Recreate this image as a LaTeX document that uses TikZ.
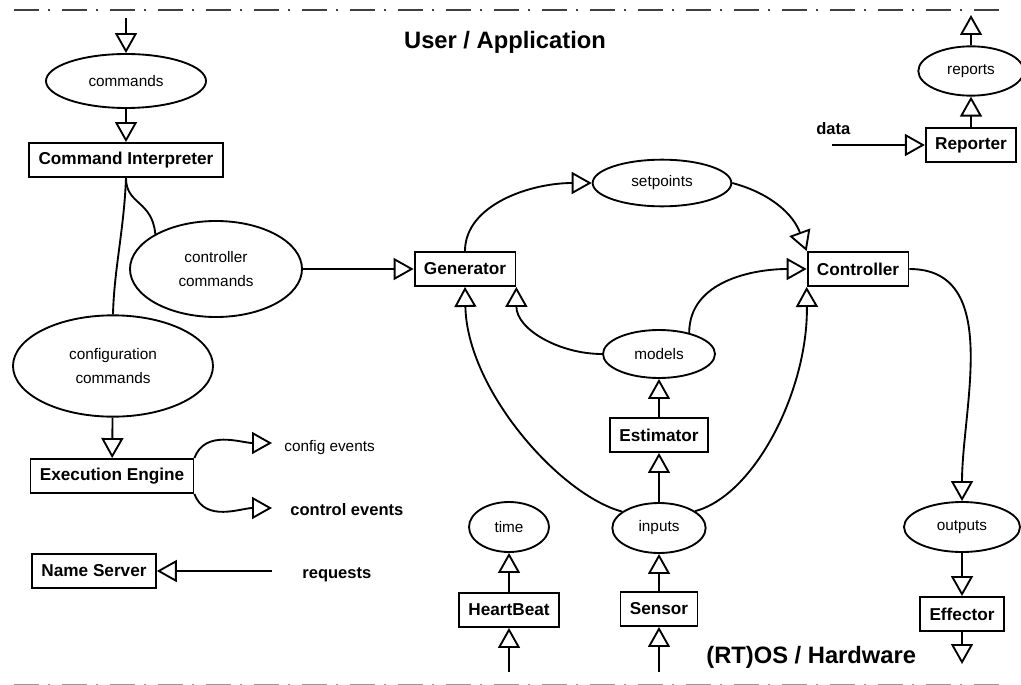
\documentclass[tikz,border=0pt]{standalone}
\usepackage{fontspec}
\setmainfont{Liberation Sans}
\usetikzlibrary{positioning}
\usetikzlibrary{shapes.geometric}
\usetikzlibrary{arrows.meta}

\begin{document}
\begin{tikzpicture}[x=0.75pt, y=0.75pt, line width=1.4pt,
    box/.style={draw, font=\bfseries\fontsize{12.9}{15}\selectfont, minimum height=25.5pt, inner xsep=7pt, inner ysep=0pt},
    blob/.style={draw, ellipse, inner sep=0pt, align=center, font=\fontsize{11.5}{18}\selectfont},
    flow/.style={-{Triangle[open, length=15pt, width=16.5pt]}},
    note/.style={font=\fontsize{11.5}{14}\selectfont},
    tag/.style={font=\bfseries\fontsize{12.4}{15}\selectfont},
    layer/.style={font=\bfseries\fontsize{17.8}{20}\selectfont},
    rule/.style={line width=2.2pt, dash pattern=on 18.75pt off 6.75pt on 1.5pt off 9pt}]
  \useasboundingbox (0,0) rectangle (1021,-685);
  \draw[rule, black!75] (14,-10) -- (1003,-10);
  \draw[rule, black!40] (14,-685) -- (1003,-685);
  \node[layer, anchor=base] (userapp) at (505,-49) {User / Application};
  \node[layer, anchor=base west] (rtos) at (701,-663) {(RT)OS / Hardware};

  \node[blob, minimum width=120pt, minimum height=40.5pt] (cmds) at (126,-81) {commands};
  \node[box] (interp) at (126,-160) {Command Interpreter};
  \node[blob, minimum width=129pt, minimum height=72pt] (ctrlcmds) at (216,-269) {controller\\commands};
  \node[blob, minimum width=150pt, minimum height=76pt] (cfgcmds) at (113,-366) {configuration\\commands};
  \node[box] (engine) at (112,-476) {Execution Engine};
  \node[box] (names) at (94,-571) {Name Server};
  \node[box] (gen) at (465,-269) {Generator};
  \node[blob, minimum width=104pt, minimum height=35pt] (setp) at (662,-183) {setpoints};
  \node[box] (ctrl) at (858,-269) {Controller};
  \node[blob, minimum width=84pt, minimum height=36pt] (models) at (659,-354) {models};
  \node[box] (estim) at (659,-435) {Estimator};
  \node[blob, minimum width=70pt, minimum height=37.5pt] (inputs) at (659,-528) {inputs};
  \node[box] (sensor) at (659,-609) {Sensor};
  \node[blob, minimum width=60pt, minimum height=37.5pt] (time) at (509,-527) {time};
  \node[box] (beat) at (509,-610) {HeartBeat};
  \node[blob, minimum width=87pt, minimum height=37.5pt] (outputs) at (962,-527) {outputs};
  \node[box] (effector) at (962,-614) {Effector};
  \node[box] (reporter) at (971,-145) {Reporter};
  \node[blob, minimum width=79pt, minimum height=37pt] (reports) at (971,-71) {reports};

  \node[note, anchor=base west] (cfgtext) at (279,-451) {config events};
  \node[tag, anchor=base west] (ctltext) at (285,-515) {control events};
  \node[tag, anchor=base west] (reqtext) at (297,-578) {requests};
  \node[tag, anchor=base west] (datatext) at (811,-134) {data};

  \coordinate (cmdsin) at (126,-18);
  \coordinate (reportsout) at (971,-15);
  \coordinate (datain) at (832,-145);
  \coordinate (cfgevt) at (272,-443);
  \coordinate (ctlevt) at (272,-508);
  \coordinate (reqin) at (272,-571);
  \coordinate (sensorin) at (659,-672);
  \coordinate (beatin) at (509,-672);
  \coordinate (effout) at (962,-664);

  \draw[flow] (cmdsin) -- (cmds);
  \draw[flow] (cmds) -- (interp);
  \draw (interp.south) .. controls (126,-205) and (152,-200) .. (ctrlcmds.150);
  \draw (interp.south) .. controls (124,-230) and (114,-270) .. (cfgcmds.north);
  \draw[flow] (ctrlcmds) -- (gen);
  \draw[flow] (cfgcmds) -- (engine);
  \draw[flow] (engine.north east) to[out=70, in=180] (cfgevt);
  \draw[flow] (engine.south east) to[out=-70, in=180] (ctlevt);
  \draw[flow] (reqin) -- (names);
  \draw[flow] (gen.north) .. controls (465,-205) and (530,-183) .. (setp.west);
  \draw[flow] (setp.east) to[out=-15, in=110] (ctrl.north west);
  \draw[flow] (models.west) to[out=180, in=-90] (gen.south east);
  \draw[flow] (models.35) to[out=90, in=180] (ctrl.west);
  \draw[flow] (inputs.156) .. controls (560,-495) and (467,-390) .. (gen.south);
  \draw[flow] (inputs.25) .. controls (755,-495) and (808,-390) .. (ctrl.south west);
  \draw[flow] (estim) -- (models);
  \draw[flow] (inputs) -- (estim);
  \draw[flow] (sensor) -- (inputs);
  \draw[flow] (sensorin) -- (sensor);
  \draw[flow] (beat) -- (time);
  \draw[flow] (beatin) -- (beat);
  \draw[flow] (ctrl.east) to[out=0, in=90] (outputs.north);
  \draw[flow] (outputs) -- (effector);
  \draw[flow] (effector) -- (effout);
  \draw[flow] (reporter) -- (reports);
  \draw[flow] (reports) -- (reportsout);
  \draw[flow] (datain) -- (reporter);
\end{tikzpicture}
\end{document}
